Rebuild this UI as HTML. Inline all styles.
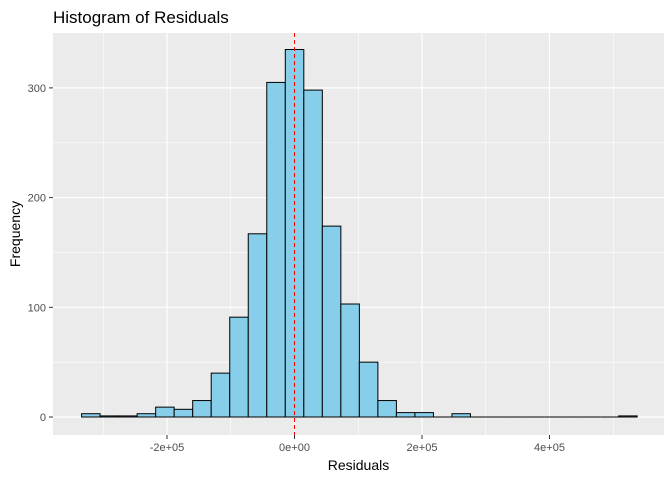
<!DOCTYPE html>
<html><head><meta charset="utf-8"><style>
body{margin:0;background:#fff;font-family:"Liberation Sans",Arial,sans-serif}
</style></head><body>
<svg id="chart" width="672" height="480" xmlns="http://www.w3.org/2000/svg" font-family="Liberation Sans, Arial, sans-serif"></svg>
<script>
const binStart = -334000;
const binWidth = 29050;
const counts = [3,1,1,3,9,7,15,40,91,167,305,335,298,174,103,50,15,4,4,0,3,0,0,0,0,0,0,0,0,1];
const xTicks = [-200000,0,200000,400000];
const xTickLabels = ["-2e+05","0e+00","2e+05","4e+05"];
const xMinor = [-300000,-100000,100000,300000,500000];
const yTicks = [0,100,200,300];
const yMinor = [50,150,250];
const meanValue = 0;

const L=53,R=664,T=33,B=435;
const x = v => 294.5 + v/200000*127.5;
const y = v => 417 - v*1.097;
const svg = document.getElementById('chart');
const NS='http://www.w3.org/2000/svg';
function add(tag, attrs, parent){const e=document.createElementNS(NS,tag);for(const k in attrs)e.setAttribute(k,attrs[k]);(parent||svg).appendChild(e);return e;}

const panel = add('rect',{x:L,y:T,width:R-L,height:B-T,fill:'#ebebeb'});



yMinor.forEach(v=>{const l=add('line',{x1:L,x2:R,y1:y(v),y2:y(v),stroke:'#fff','stroke-width':0.6});

});
xMinor.forEach(v=>{const l=add('line',{x1:x(v),x2:x(v),y1:T,y2:B,stroke:'#fff','stroke-width':0.6});

});
yTicks.forEach(v=>{const l=add('line',{x1:L,x2:R,y1:y(v),y2:y(v),stroke:'#fff','stroke-width':1.2});

});
xTicks.forEach(v=>{const l=add('line',{x1:x(v),x2:x(v),y1:T,y2:B,stroke:'#fff','stroke-width':1.2});

});

counts.forEach((c,i)=>{
  const x0=x(binStart+i*binWidth), x1=x(binStart+(i+1)*binWidth);
  let r;
  if(c===0){
    r=add('line',{x1:x0,x2:x1,y1:y(0),y2:y(0),stroke:'#000','stroke-width':1});
  } else {
    r=add('rect',{x:x0,y:y(c),width:x1-x0,height:y(0)-y(c),fill:'#87ceeb',stroke:'#000','stroke-width':1});
  }
  
  
});

const ml=add('line',{x1:x(meanValue),x2:x(meanValue),y1:T,y2:B,stroke:'#ff0000','stroke-width':1,'stroke-dasharray':'4,3'});



yTicks.forEach(v=>{
  const t=add('line',{x1:L-4,x2:L,y1:y(v),y2:y(v),stroke:'#333','stroke-width':1});
  
  
  const tx=add('text',{x:L-7,y:y(v)+4,'text-anchor':'end','font-size':11,fill:'#4d4d4d'});
  tx.textContent=v;
  
  
});
xTicks.forEach((v,i)=>{
  const t=add('line',{x1:x(v),x2:x(v),y1:B,y2:B+4,stroke:'#333','stroke-width':1});
  
  
  const tx=add('text',{x:x(v),y:B+16,'text-anchor':'middle','font-size':11,fill:'#4d4d4d'});
  tx.textContent=xTickLabels[i];
  
  
});

const xt=add('text',{x:(L+R)/2,y:470,'text-anchor':'middle','font-size':14,fill:'#000'});
xt.textContent='Residuals';


const yt=add('text',{x:20,y:(T+B)/2,'text-anchor':'middle','font-size':14,fill:'#000',transform:`rotate(-90 20 ${(T+B)/2})`});
yt.textContent='Frequency';


const tt=add('text',{x:L,y:23,'font-size':17,fill:'#000'});
tt.textContent='Histogram of Residuals';


</script>
</body></html>
